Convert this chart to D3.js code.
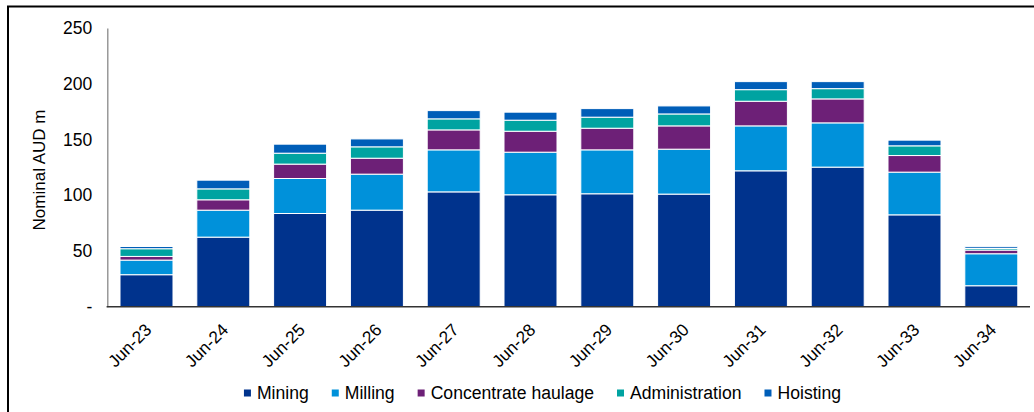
<!DOCTYPE html>
<html>
<head>
<meta charset="utf-8">
<script src="https://cdn.jsdelivr.net/npm/d3@7"></script>
<style>
  html, body { margin: 0; padding: 0; background: #fff; }
  svg { display: block; font-family: "Liberation Sans", Arial, sans-serif; }
</style>
</head>
<body>
<svg id="chart" width="1034" height="412"></svg>
<script>
const categories = ["Jun-23","Jun-24","Jun-25","Jun-26","Jun-27","Jun-28","Jun-29","Jun-30","Jun-31","Jun-32","Jun-33","Jun-34"];
const seriesNames = ["Mining","Milling","Concentrate haulage","Administration","Hoisting"];
const mining   = [28.7, 62.4, 83.6, 86.6, 103.0, 100.4, 101.3, 101.0, 121.9, 125.2, 82.4, 18.8];
const milling  = [13.1, 24.2, 31.4, 32.3, 37.7, 38.2, 39.4, 40.3, 40.3, 39.7, 38.3, 28.7];
const haulage  = [3.3, 9.3, 12.9, 14.3, 17.9, 18.8, 19.4, 20.9, 22.1, 21.5, 14.9, 3.3];
const admin    = [6.9, 9.8, 9.8, 10.2, 9.9, 9.9, 9.9, 10.7, 10.4, 9.2, 8.7, 1.4];
const hoisting = [2.0, 7.8, 8.1, 7.1, 7.4, 7.2, 7.7, 7.2, 7.2, 6.3, 5.1, 1.6];
const yTicks = [0, 50, 100, 150, 200, 250];
const yTickLabels = ["-", "50", "100", "150", "200", "250"];
const colors = ["#00338D", "#0091DA", "#6D2077", "#00A3A1", "#005EB8"];

const seriesValues = [mining, milling, haulage, admin, hoisting];
const table = categories.map((c, i) => {
  const row = { cat: c };
  seriesNames.forEach((s, k) => row[s] = seriesValues[k][i]);
  return row;
});

const svg = d3.select("#chart");
const FONT = 17;

// frame
svg.append("line").attr("x1", 8).attr("x2", 8).attr("y1", 6).attr("y2", 412)
  .attr("stroke", "#000").attr("stroke-width", 2);
svg.append("line").attr("x1", 7).attr("x2", 1034).attr("y1", 6.5).attr("y2", 6.5)
  .attr("stroke", "#000").attr("stroke-width", 2);

const x = d3.scaleBand().domain(categories).range([108.1, 1029.7])
  .paddingInner(0.31).paddingOuter(0.155);
const y = d3.scaleLinear().domain([0, 250]).range([306.7, 28]);

const stack = d3.stack().keys(seriesNames);
const layers = stack(table);

svg.append("g").selectAll("g").data(layers).join("g")
  .attr("fill", (d, i) => colors[i])
  .selectAll("rect").data(d => d).join("rect")
  .attr("x", d => x(d.data.cat))
  .attr("width", x.bandwidth())
  .attr("y", d => y(d[1]))
  .attr("height", d => y(d[0]) - y(d[1]))
  .attr("stroke", "#fff").attr("stroke-width", 1);

// y axis
const yAxis = svg.append("g").attr("transform", "translate(107.3,0)")
  .call(d3.axisLeft(y).tickValues(yTicks)
    .tickFormat((d, i) => yTickLabels[i]).tickSize(0).tickPadding(15));
yAxis.select(".domain").attr("stroke", "#898989").attr("stroke-width", 1.3);
yAxis.selectAll("text").attr("font-size", 17.5).attr("fill", "#000")
  .attr("font-family", "Liberation Sans, Arial, sans-serif");

// x axis line
const xAxis = svg.append("g").attr("transform", "translate(0,306.7)")
  .call(d3.axisBottom(x).tickSize(0).tickFormat(""));
xAxis.select(".domain").attr("stroke", "#333").attr("stroke-width", 1.5)
  .attr("d", "M106.6,0H1030");

// x labels
svg.append("g").selectAll("text").data(categories).join("text")
  .attr("transform", d => `translate(${x(d) + x.bandwidth() / 2 + 6},${331}) rotate(-45)`)
  .attr("text-anchor", "end")
  .attr("font-size", 17.3).attr("fill", "#000")
  .text(d => d);

// y title
svg.append("text")
  .attr("transform", "translate(45,170) rotate(-90)")
  .attr("text-anchor", "middle")
  .attr("font-size", FONT).attr("fill", "#000")
  .text("Nominal AUD m");

// legend
const legend = svg.append("g");
let lx = 0;
seriesNames.forEach((s, i) => {
  const g = legend.append("g").attr("transform", `translate(${lx},0)`);
  g.append("rect").attr("x", 0).attr("y", 389.5).attr("width", 7).attr("height", 7)
    .attr("fill", colors[i]);
  const t = g.append("text").attr("x", 13).attr("y", 398.7)
    .attr("font-size", 17.6).attr("fill", "#000").text(s);
  lx += 13 + t.node().getComputedTextLength() + 23;
});
const totalW = lx - 23;
legend.attr("transform", `translate(${542.5 - totalW / 2},0)`);
</script>
</body>
</html>
